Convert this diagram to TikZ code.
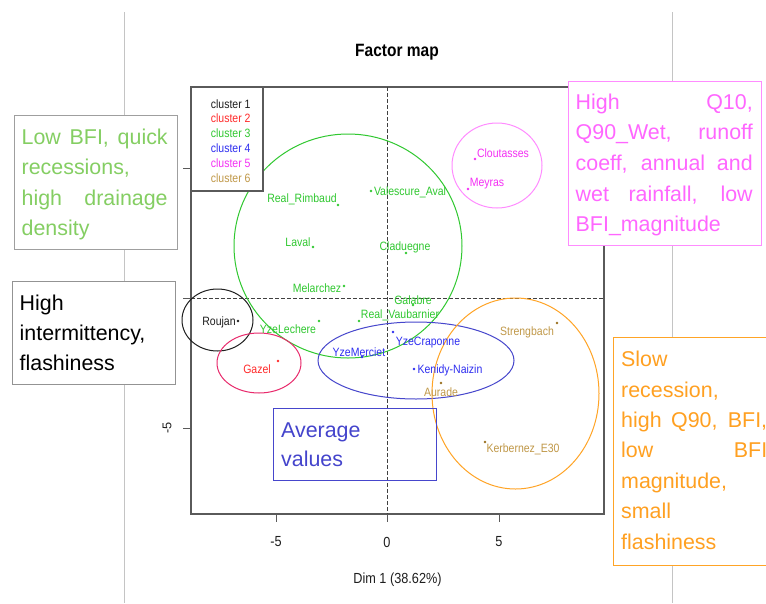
\documentclass[tikz,border=0pt]{standalone}
\usepackage{fontspec}
\setmainfont{Liberation Sans}
\usepackage{graphicx}
% plot text is slightly stretched vertically
\newcommand\tallt[1]{\scalebox{1}[1.15]{#1}}

\definecolor{guidegray}{HTML}{C4C4C4}
\definecolor{framegray}{HTML}{5A5A5A}
\definecolor{kone}{HTML}{1E1E1E}
\definecolor{ktwo}{HTML}{FF2A2A}
\definecolor{kthree}{HTML}{30C830}
\definecolor{kfour}{HTML}{2E2EF0}
\definecolor{kfive}{HTML}{F430F4}
\definecolor{ksix}{HTML}{C09848}
\definecolor{ksixdot}{HTML}{9A7020}
\definecolor{elred}{HTML}{E82A6C}
\definecolor{elblue}{HTML}{4646CC}
\definecolor{elpink}{HTML}{FF8CFF}
\definecolor{elorange}{HTML}{FFA426}
\definecolor{notegreen}{HTML}{84CE62}
\definecolor{notepink}{HTML}{FF66FF}
\definecolor{noteorange}{HTML}{FFA021}
\definecolor{noteblue}{HTML}{4444CC}

\begin{document}
\begin{tikzpicture}[x=1pt,y=-1pt,
  guide/.style={draw=guidegray,line width=0.9pt},
  frame/.style={draw=framegray,line width=1.1pt},
  zero/.style={draw=kone!85,line width=0.8pt,dash pattern=on 3.5pt off 2.5pt},
  tick/.style={draw=framegray,line width=1pt},
  ell/.style={line width=1pt},
  pt/.style={radius=1.3pt},
  ptlbl/.style={font=\fontsize{10.5}{12}\selectfont,inner sep=0pt,text height=8.5pt,text depth=0pt},
  axlbl/.style={font=\fontsize{12.7}{14}\selectfont,inner sep=0pt,text=kone},
  ttl/.style={font=\bfseries\fontsize{15.5}{18}\selectfont,inner sep=0pt,text=black},
  note/.style={font=\fontsize{21.4}{30.5}\selectfont,inner sep=0pt,anchor=base west},
  notebox/.style={fill=white,line width=1pt}
]
\useasboundingbox (0,0) rectangle (766,603);
\fill[white] (0,0) rectangle (766,603);

% page guide lines
\draw[guide] (124,12) -- (124,603);
\draw[guide] (672,12) -- (672,603);

% title
\node[ttl] (title) at (397,52) {\tallt{Factor map}};

% plot frame, zero lines and ticks
\draw[frame] (191,87) rectangle (604,514);
\draw[zero] (387,87) -- (387,514);
\draw[zero] (191,298) -- (604,298);
\foreach \tx in {276,387,499} \draw[tick] (\tx,514) -- (\tx,522);
\foreach \ty in {168,298,428} \draw[tick] (191,\ty) -- (183,\ty);
\node[axlbl] (xm5) at (276,542) {\tallt{-5}};
\node[axlbl] (x0) at (387,542) {\tallt{0}};
\node[axlbl] (x5) at (499,542) {\tallt{5}};
\node[axlbl,rotate=90] (ym5) at (167,428) {-5};
\node[axlbl] (xtitle) at (397.5,580) {\tallt{Dim 1 (38.62\%)}};

% confidence ellipses
\draw[ell,kthree] (348,246) ellipse [x radius=114pt,y radius=112pt];
\draw[ell,kone] (217.5,320) ellipse [x radius=35.5pt,y radius=31pt];
\draw[ell,elred] (259,363) ellipse [x radius=42pt,y radius=30pt];
\draw[ell,elblue] (416,360.5) ellipse [x radius=98pt,y radius=38.5pt];
\draw[ell,elpink] (497,165.5) ellipse [x radius=45pt,y radius=42.5pt];
\draw[ell,elorange] (515.5,393.5) ellipse [x radius=83.5pt,y radius=95.5pt];

% catchments
\fill[kthree] (338,205) circle[pt];
\fill[kthree] (371,191) circle[pt];
\fill[kthree] (313,247) circle[pt];
\fill[kthree] (406,253) circle[pt];
\fill[kthree] (344,286) circle[pt];
\fill[kthree] (413,305) circle[pt];
\fill[kthree] (359,321) circle[pt];
\fill[kthree] (319,321) circle[pt];
\fill[kone] (238,321) circle[pt];
\fill[ktwo] (278,361) circle[pt];
\fill[kfour] (362,357) circle[pt];
\fill[kfour] (393,332) circle[pt];
\fill[kfour] (414,369) circle[pt];
\fill[ksixdot] (441,383) circle[pt];
\fill[ksixdot] (557,323) circle[pt];
\fill[ksixdot] (485,442) circle[pt];
\fill[kfive] (475,159) circle[pt];
\fill[kfive] (468,189) circle[pt];

\node[ptlbl,text=kthree] (rimbaud) at (302,198) {\tallt{Real\_Rimbaud}};
\node[ptlbl,text=kthree] (valescure) at (410,191) {\tallt{Valescure\_Aval}};
\node[ptlbl,text=kthree] (laval) at (298,242) {\tallt{Laval}};
\node[ptlbl,text=kthree] (claduegne) at (405,246) {\tallt{Claduegne}};
\node[ptlbl,text=kthree] (melarchez) at (317,288) {\tallt{Melarchez}};
\node[ptlbl,text=kthree] (galabre) at (413,300) {\tallt{Galabre}};
\node[ptlbl,text=kthree] (vaubarnier) at (400,314) {\tallt{Real\_Vaubarnier}};
\node[ptlbl,text=kthree] (lechere) at (288,329) {\tallt{YzeLechere}};
\node[ptlbl,text=kone] (roujan) at (219,321) {\tallt{Roujan}};
\node[ptlbl,text=ktwo] (gazel) at (257,369) {\tallt{Gazel}};
\node[ptlbl,text=kfour] (merciet) at (359,352) {\tallt{YzeMerciet}};
\node[ptlbl,text=kfour] (craponne) at (428,341) {\tallt{YzeCraponne}};
\node[ptlbl,text=kfour] (naizin) at (450,369) {\tallt{Kenidy-Naizin}};
\node[ptlbl,text=ksix] (aurade) at (441,392) {\tallt{Aurade}};
\node[ptlbl,text=ksix] (strengbach) at (527,331) {\tallt{Strengbach}};
\node[ptlbl,text=ksix] (kerbernez) at (523,448) {\tallt{Kerbernez\_E30}};
\node[ptlbl,text=kfive] (cloutasses) at (503,153) {\tallt{Cloutasses}};
\node[ptlbl,text=kfive] (meyras) at (487,182) {\tallt{Meyras}};

% legend
\draw[frame,fill=white] (191,87) rectangle (263,191);
\node[ptlbl,text=kone] (leg1) at (230.7,104) {\tallt{cluster 1}};
\node[ptlbl,text=ktwo] (leg2) at (230.7,118.5) {\tallt{cluster 2}};
\node[ptlbl,text=kthree] (leg3) at (230.7,133) {\tallt{cluster 3}};
\node[ptlbl,text=kfour] (leg4) at (230.7,148) {\tallt{cluster 4}};
\node[ptlbl,text=kfive] (leg5) at (230.7,163) {\tallt{cluster 5}};
\node[ptlbl,text=ksix] (leg6) at (230.7,178) {\tallt{cluster 6}};

% annotation boxes
\draw[notebox,draw=gray!75] (14,115) rectangle (177,249);
\node[note,text=notegreen] (g1) at (21.5,144.3) {\makebox[146pt][s]{Low BFI, quick}};
\node[note,text=notegreen] (g2) at (21.5,174.8) {recessions,};
\node[note,text=notegreen] (g3) at (21.5,205.3) {\makebox[146pt][s]{high drainage}};
\node[note,text=notegreen] (g4) at (21.5,235.8) {density};

\draw[notebox,draw=gray!85] (12,281) rectangle (175,384);
\node[note,text=black] (b1) at (19.5,310.7) {High};
\node[note,text=black] (b2) at (19.5,340.7) {intermittency,};
\node[note,text=black] (b3) at (19.5,370.7) {flashiness};

\draw[notebox,draw=elpink] (568,81) rectangle (761,245);
\node[note,text=notepink] (p1) at (575.5,109.3) {\makebox[177pt][s]{High Q10,}};
\node[note,text=notepink] (p2) at (575.5,139.9) {\makebox[177pt][s]{Q90\_Wet, runoff}};
\node[note,text=notepink] (p3) at (575.5,170.5) {\makebox[177pt][s]{coeff, annual and}};
\node[note,text=notepink] (p4) at (575.5,201.1) {\makebox[177pt][s]{wet rainfall, low}};
\node[note,text=notepink] (p5) at (575.5,231.7) {BFI\_magnitude};

\draw[notebox,draw=elorange] (613,337) rectangle (790,565);
\node[note,text=noteorange] (o1) at (621,366.7) {Slow};
\node[note,text=noteorange] (o2) at (621,397.1) {recession,};
\node[note,text=noteorange] (o3) at (621,427.5) {\makebox[146pt][s]{high Q90, BFI,}};
\node[note,text=noteorange] (o4) at (621,457.9) {\makebox[146pt][s]{low BFI}};
\node[note,text=noteorange] (o5) at (621,488.3) {magnitude,};
\node[note,text=noteorange] (o6) at (621,518.7) {small};
\node[note,text=noteorange] (o7) at (621,549.1) {flashiness};

\draw[draw=elblue,line width=1pt] (273,408) rectangle (436,480);
\node[note,text=noteblue] (a1) at (281,437.3) {Average};
\node[note,text=noteblue] (a2) at (281,466.6) {values};
\end{tikzpicture}
\end{document}
